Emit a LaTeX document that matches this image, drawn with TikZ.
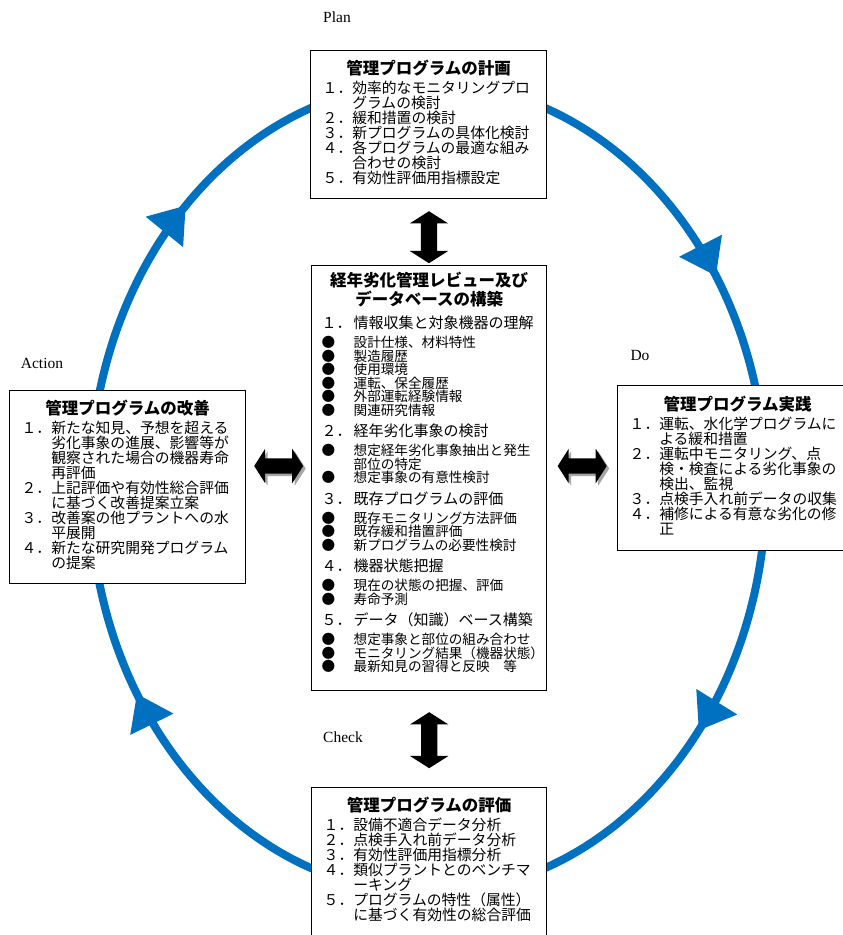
\documentclass[tikz,border=0pt]{standalone}
\usepackage{fontspec}
\setmainfont{Liberation Serif}
\newfontfamily\jpfont{Noto Sans CJK JP}
\usetikzlibrary{shapes.arrows,arrows.meta,positioning,calc,shadows,decorations.markings}
\definecolor{pdcablue}{HTML}{0070C0}
\newcommand{\panelbody}[3]{\parbox[t][#2][t]{#1}{#3}}
\newcommand{\ptitle}[1]{{\centering\bfseries\fontsize{16.5}{19}\selectfont #1\par}\vspace{4.3pt}}
\newcommand{\pitem}[2]{{\hangindent=2em\hangafter=1\noindent\makebox[2em][l]{#1}#2\par}}
\newcommand{\rhead}[2]{\vspace{6.5pt}{\fontsize{15}{15}\selectfont\noindent\makebox[32pt][l]{#1}#2\par}\vspace{5.5pt}}
\newcommand{\rbul}[1]{{\fontsize{13.6}{13.5}\selectfont\hangindent=32pt\hangafter=1\noindent\makebox[32pt][l]{●}#1\par}}
\tikzset{
  panel/.style={rectangle, draw=black, line width=1.4pt, fill=white, anchor=north west, inner xsep=12pt, inner ysep=9pt, font={\jpfont\fontsize{14.8}{15}\selectfont\lineskiplimit=-5pt}},
  cycleline/.style={draw=pdcablue, line width=8pt, postaction={decorate}, decoration={markings,
    mark=at position 0.109 with {\arrow{Triangle[length=34pt,width=46pt]}},
    mark=at position 0.409 with {\arrow{Triangle[length=34pt,width=46pt]}},
    mark=at position 0.630 with {\arrow{Triangle[length=34pt,width=46pt]}},
    mark=at position 0.906 with {\arrow{Triangle[length=34pt,width=46pt]}}}},
  twoway/.style={double arrow, fill=black, draw=none, inner xsep=0pt, double arrow tip angle=115},
  twowayshadow/.style={twoway, drop shadow={shadow xshift=2.5pt, shadow yshift=-2.5pt, fill=black!35, opacity=1}},
  phase/.style={font=\fontsize{15.5}{18}\selectfont, inner sep=0pt}
}
\begin{document}
\begin{tikzpicture}[x=1pt,y=-1pt]
  \useasboundingbox (0,0) rectangle (843,935);
  \clip (0,0) rectangle (843,935);
  % PDCA cycle
  \coordinate (cen) at (428,488);
  \path[cycleline] (cen) ellipse [x radius=338, y radius=405];

  \node[panel] (plan) at (310,50) {\panelbody{212pt}{130pt}{
    \ptitle{管理プログラムの計画}
    \pitem{１．}{効率的なモニタリングプロ\newline グラムの検討}
    \pitem{２．}{緩和措置の検討}
    \pitem{３．}{新プログラムの具体化検討}
    \pitem{４．}{各プログラムの最適な組み\newline 合わせの検討}
    \pitem{５．}{有効性評価用指標設定}}};

  \node[panel, inner xsep=10pt, inner ysep=6pt] (review) at (311,265) {\panelbody{215pt}{413pt}{
    \ptitle{経年劣化管理レビュー及び\\データベースの構築}
    \vspace{-2pt}
    \rhead{１．}{情報収集と対象機器の理解}
    \rbul{設計仕様、材料特性}
    \rbul{製造履歴}
    \rbul{使用環境}
    \rbul{運転、保全履歴}
    \rbul{外部運転経験情報}
    \rbul{関連研究情報}
    \rhead{２．}{経年劣化事象の検討}
    \rbul{想定経年劣化事象抽出と発生\newline 部位の特定}
    \rbul{想定事象の有意性検討}
    \rhead{３．}{既存プログラムの評価}
    \rbul{既存モニタリング方法評価}
    \rbul{既存緩和措置評価}
    \rbul{新プログラムの必要性検討}
    \rhead{４．}{機器状態把握}
    \rbul{現在の状態の把握、評価}
    \rbul{寿命予測}
    \rhead{５．}{データ（知識）ベース構築}
    \rbul{想定事象と部位の組み合わせ}
    \rbul{モニタリング結果（機器状態）}
    \rbul{最新知見の習得と反映　等}}};

  \node[panel] (action) at (9,390) {\panelbody{212pt}{175pt}{
    \ptitle{管理プログラムの改善}
    \pitem{１．}{新たな知見、予想を超える\newline 劣化事象の進展、影響等が\newline 観察された場合の機器寿命\newline 再評価}
    \pitem{２．}{上記評価や有効性総合評価\newline に基づく改善提案立案}
    \pitem{３．}{改善案の他プラントへの水\newline 平展開}
    \pitem{４．}{新たな研究開発プログラム\newline の提案}}};

  \node[panel, inner ysep=10pt] (do) at (617,385) {\panelbody{216pt}{145pt}{
    \ptitle{管理プログラム実践}
    \pitem{１．}{運転、水化学プログラムに\newline よる緩和措置}
    \pitem{２．}{運転中モニタリング、点\newline 検・検査による劣化事象の\newline 検出、監視}
    \pitem{３．}{点検手入れ前データの収集}
    \pitem{４．}{補修による有意な劣化の修\newline 正}}};

  \node[panel] (check) at (311,787) {\panelbody{211pt}{152pt}{
    \ptitle{管理プログラムの評価}
    \pitem{１．}{設備不適合データ分析}
    \pitem{２．}{点検手入れ前データ分析}
    \pitem{３．}{有効性評価用指標分析}
    \pitem{４．}{類似プラントとのベンチマ\newline ーキング}
    \pitem{５．}{プログラムの特性（属性）\newline に基づく有効性の総合評価}}};

  % two-way arrows between the boxes
  \coordinate (midrow) at (0,466);
  \coordinate (lmid) at ($(action.east)!0.5!(review.west)$);
  \coordinate (rmid) at ($(review.east)!0.5!(do.west)$);
  \node[twoway, rotate=90, minimum height=52pt, inner ysep=8pt, double arrow head extend=11pt] (plantoreview) at ($(plan.south)!0.5!(review.north)+(0,5)$) {};
  \node[twoway, rotate=90, minimum height=56pt, inner ysep=8pt, double arrow head extend=11pt] (reviewtocheck) at ($(review.south)!0.5!(check.north)+(0,1)$) {};
  \node[twowayshadow, minimum height=49pt, inner ysep=7.5pt, double arrow head extend=9.5pt] (actiontoreview) at (lmid |- midrow) {};
  \node[twowayshadow, minimum height=49pt, inner ysep=7.5pt, double arrow head extend=9.5pt] (reviewtodo) at (rmid |- midrow) {};

  \node[phase] (plantxt) at (337,17) {Plan};
  \node[phase] (dotxt) at (640,355) {Do};
  \node[phase] (checktxt) at (343,737) {Check};
  \node[phase] (actiontxt) at (42,363) {Action};
\end{tikzpicture}
\end{document}
